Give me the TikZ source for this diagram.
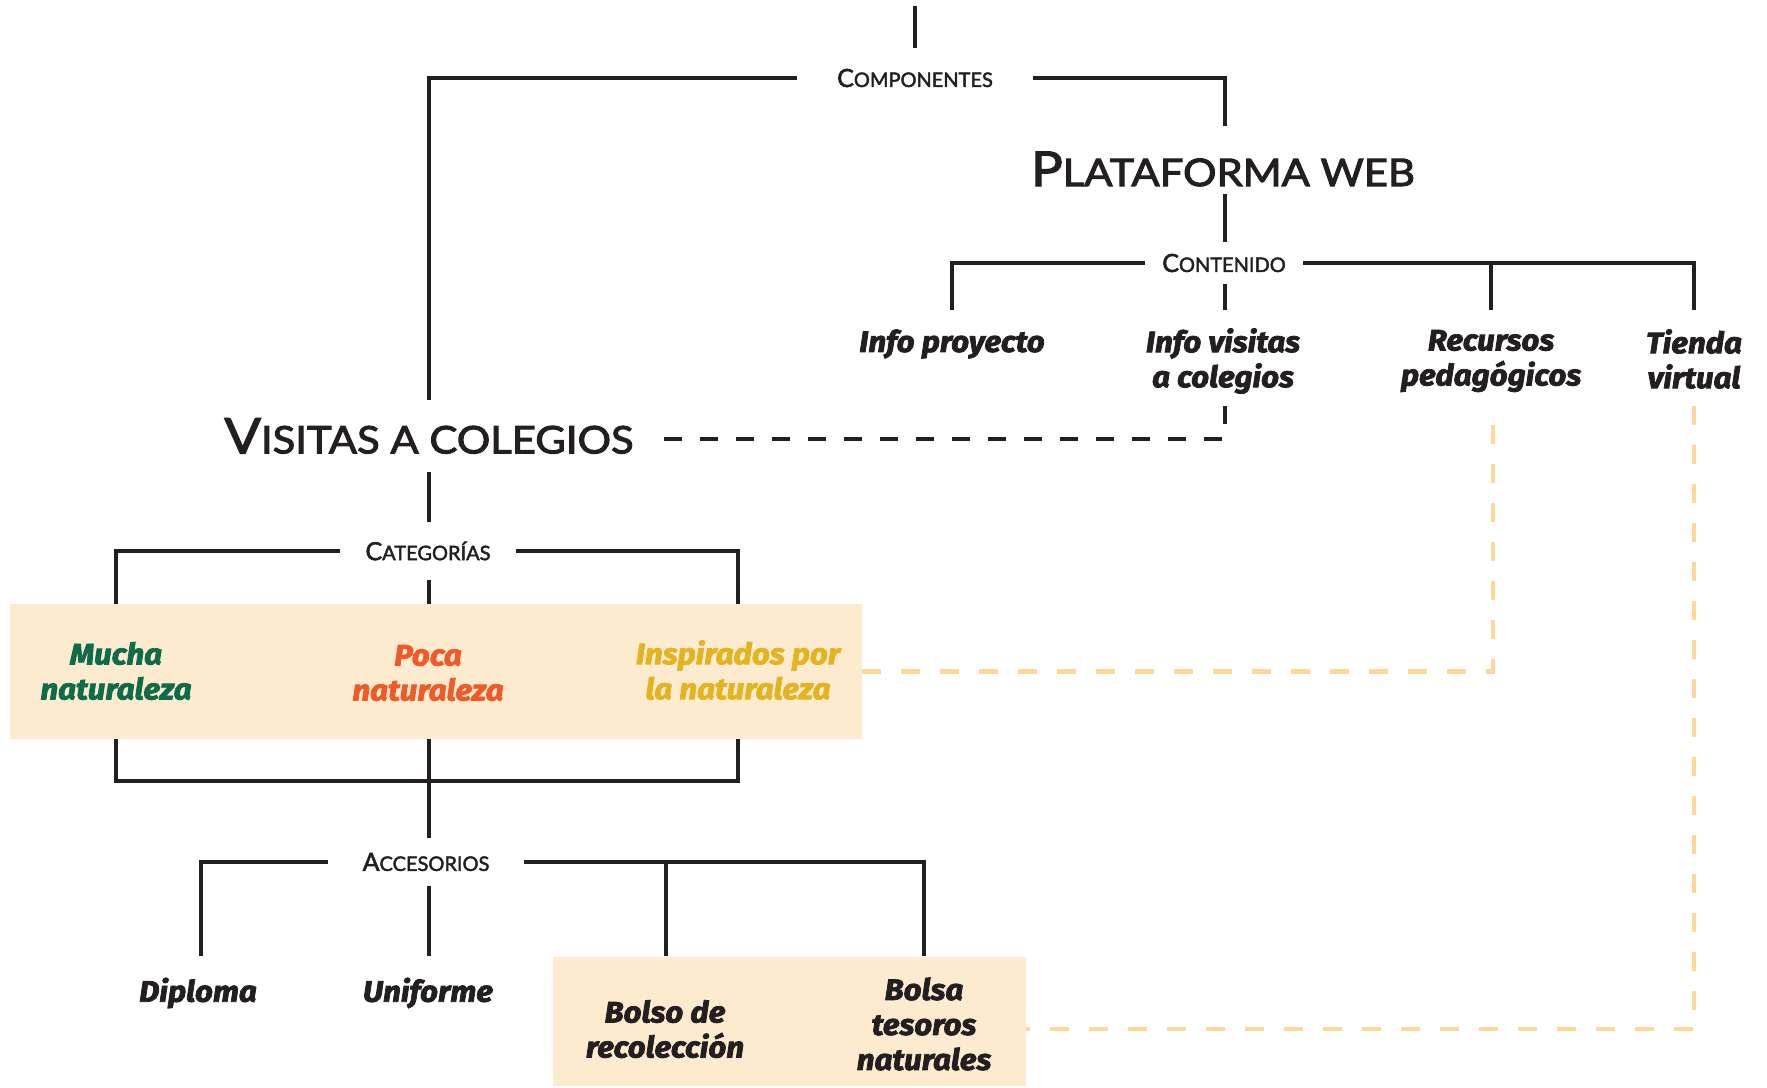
\documentclass[tikz,border=0pt]{standalone}
\usepackage{fontspec}
\setmainfont{Fira Sans}
\newfontfamily\heavyfam[BoldItalicFeatures={FakeBold=2.6,FakeStretch=1.06}]{Fira Sans}
\newcommand\heavyfont{\heavyfam\bfseries\itshape}
\newfontfamily\medfont[FakeBold=2.2]{Lato}
\newfontfamily\titlefont[FakeBold=2.6,FakeStretch=1.1]{Lato}
\definecolor{ink}{HTML}{231F20}
\definecolor{natgreen}{HTML}{0F6B49}
\definecolor{natorange}{HTML}{F05A28}
\definecolor{natgold}{HTML}{E4B420}
\definecolor{peach}{HTML}{FDEBCF}
\definecolor{peachline}{HTML}{FDD899}
\newcommand\fsc[4]{{\fontsize{#1}{#1}\selectfont #3}{\fontsize{#2}{#2}\selectfont #4}}
\begin{document}
\begin{tikzpicture}[x=1pt,y=-1pt,
  ln/.style={line width=4.5pt,color=ink},
  bdash/.style={line width=4.5pt,color=ink,dash pattern=on 18pt off 18pt},
  odash/.style={line width=4.5pt,color=peachline,dash pattern=on 19pt off 20pt},
  sclab/.style={font=\medfont,text=ink,inner sep=0pt},
  ttl/.style={font=\titlefont,text=ink,inner sep=0pt},
  lbl/.style={font=\heavyfont\fontsize{29.5}{35}\selectfont,align=center,text=ink,inner sep=0pt},
  boxfill/.style={fill=peach,draw=none,inner sep=0pt}]
\useasboundingbox (0,0) rectangle (1767,1087);
% boxes
\node[boxfill,minimum width=852pt,minimum height=135pt] (catbox) at (436,671.5) {};
\node[boxfill,minimum width=473pt,minimum height=129pt] (accbox) at (789.5,1021.5) {};
% labels
\node[sclab,minimum width=235pt,minimum height=60pt] (comp) at (915,78) {\fsc{25}{20}{C}{OMPONENTES}};
\node[ttl] (plat) at (1223,169) {\fsc{48}{38}{P}{LATAFORMA WEB}};
\node[sclab,minimum width=158pt,minimum height=42pt] (cont) at (1224,263) {\fsc{25}{20}{C}{ONTENIDO}};
\node[lbl] (infop) at (952,344) {Info proyecto};
\node[lbl] (infov) at (1223,361) {Info visitas\\a colegios};
\node[lbl] (recur) at (1491,361) {Recursos\\pedagógicos};
\node[lbl] (tienda) at (1694,359) {Tienda\\virtual};
\node[ttl,minimum width=470pt,minimum height=72pt] (vis) at (429,436) {\fsc{49}{38}{V}{ISITAS A COLEGIOS}};
\node[sclab,minimum width=175pt,minimum height=58pt] (cat) at (428,551) {\fsc{25}{20}{C}{ATEGORÍAS}};
\node[lbl,text=natgreen] (mucha) at (116,671) {Mucha\\naturaleza};
\node[lbl,text=natorange] (poca) at (428,673) {Poca\\naturaleza};
\node[lbl,text=natgold] (insp) at (738,670) {Inspirados por\\la naturaleza};
\node[sclab,minimum width=196pt,minimum height=48pt] (acc) at (426,862) {\fsc{25}{20}{A}{CCESORIOS}};
\node[lbl] (dipl) at (198,993) {Diploma};
\node[lbl] (unif) at (428,993) {Uniforme};
\node[lbl] (bolso) at (665,1029) {Bolso de\\recolección};
\node[lbl] (bolsa) at (924,1024) {Bolsa\\tesoros\\naturales};
% coordinates for connector ends
\coordinate (topend) at (915,6);
\coordinate (platN) at (1225,126);
\coordinate (platS) at (1225,194);
\coordinate (ipT) at (952,310);
\coordinate (ivT) at (1225,310);
\coordinate (rpT) at (1491,310);
\coordinate (tvT) at (1694,310);
\coordinate (ivB) at (1225,406);
\coordinate (visE) at (664,439);
\coordinate (rpB) at (1493,414);
\coordinate (tvB) at (1694,406);
\coordinate (dipT) at (201,956);
\coordinate (unifT) at (429,956);
\coordinate (bolsoT) at (666,956);
\coordinate (bolsaT) at (924,956);
\coordinate (accE) at (1026,1029);
\coordinate (catL) at (116,604);
\coordinate (catM) at (429,604);
\coordinate (catR) at (738,604);
\coordinate (catLb) at (116,739);
\coordinate (catMb) at (429,739);
\coordinate (catRb) at (738,739);
% connectors
\draw[ln] (topend) -- (comp.north);
\draw[ln] (comp.west) -| (vis.north);
\draw[ln] (comp.east) -| (platN);
\draw[ln] (platS) -- (cont.north -| platS);
\draw[ln] (cont.west) -| (ipT);
\draw[ln] (cont.east) -| (tvT);
\draw[ln] (rpT) -- (rpT |- cont.east);
\draw[ln] (cont.south -| ivT) -- (ivT);
\draw[bdash] (ivB) |- (visE);
\draw[ln] (vis.south -| catM) -- (cat.north -| catM);
\draw[ln] (cat.west) -| (catL);
\draw[ln] (cat.east) -| (catR);
\draw[ln] (cat.south -| catM) -- (catM);
\draw[ln] (catLb) -- ++(0,42) -| (catRb);
\draw[ln] (catMb) -- (acc.north -| catMb);
\draw[ln] (acc.west) -| (dipT);
\draw[ln] (acc.east) -| (bolsaT);
\draw[ln] (bolsoT) -- (bolsoT |- acc.east);
\draw[ln] (acc.south -| unifT) -- (unifT);
\draw[odash] (catbox.east) -| (rpB);
\draw[odash] (tvB) |- (accE);
\end{tikzpicture}
\end{document}
